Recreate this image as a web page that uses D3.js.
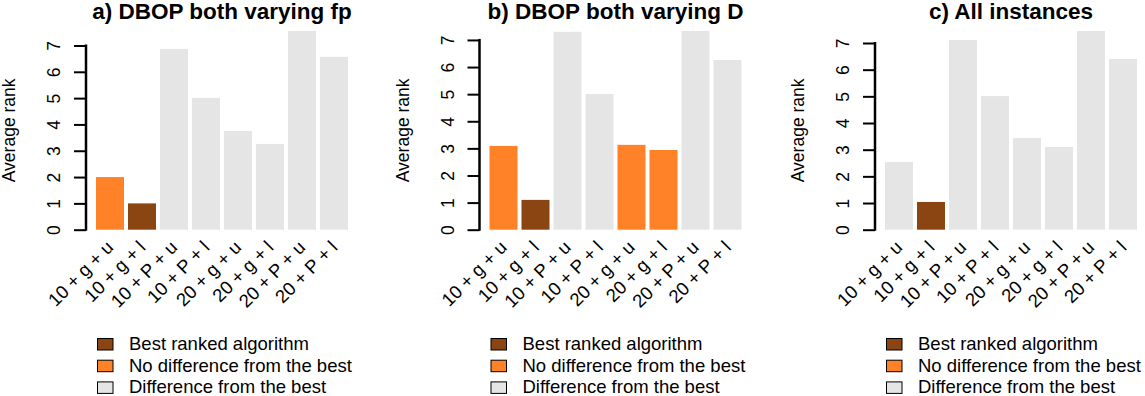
<!DOCTYPE html>
<html>
<head>
<meta charset="utf-8">
<script src="https://cdn.jsdelivr.net/npm/d3@7"></script>
<style>
  body { margin: 0; background: #fff; }
  svg { display: block; font-family: "Liberation Sans", Arial, Helvetica, sans-serif; }
</style>
</head>
<body>
<script>
// algorithm configurations (x categories)
const categories = ["10 + g + u", "10 + g + l", "10 + P + u", "10 + P + l",
                    "20 + g + u", "20 + g + l", "20 + P + u", "20 + P + l"];

const panelTitles = ["a) DBOP both varying fp", "b) DBOP both varying D", "c) All instances"];

// average ranks
const ranksFp  = [2.00, 1.00, 6.87, 5.01, 3.75, 3.26, 7.55, 6.57];
const ranksD   = [3.09, 1.10, 7.30, 5.01, 3.13, 2.94, 7.33, 6.26];
const ranksAll = [2.54, 1.04, 7.11, 5.01, 3.44, 3.10, 7.45, 6.40];

// group of each bar: best / nodiff / diff
const groupsFp  = ["nodiff", "best", "diff", "diff", "diff", "diff", "diff", "diff"];
const groupsD   = ["nodiff", "best", "diff", "diff", "nodiff", "nodiff", "diff", "diff"];
const groupsAll = ["diff", "best", "diff", "diff", "diff", "diff", "diff", "diff"];

const legendKeys = ["best", "nodiff", "diff"];
const legendLabels = ["Best ranked algorithm", "No difference from the best", "Difference from the best"];
const yTicks = [0, 1, 2, 3, 4, 5, 6, 7];

const color = d3.scaleOrdinal()
    .domain(legendKeys)
    .range(["#8B4513", "#FF8229", "#E5E5E5"]);

const panels = [
    { title: panelTitles[0], ranks: ranksFp, groups: groupsFp, left: 86 },
    { title: panelTitles[1], ranks: ranksD, groups: groupsD, left: 479.5 },
    { title: panelTitles[2], ranks: ranksAll, groups: groupsAll, left: 875 }
];

const svg = d3.select("body").append("svg")
    .attr("width", 1145)
    .attr("height", 396);

const plotTop = 31, plotBottom = 229.7;

panels.forEach(p => {
    const g = svg.append("g");

    const x = d3.scaleBand()
        .domain(categories)
        .range([p.left + 10, p.left + 262])
        .paddingInner(0.125);

    const y = d3.scaleLinear()
        .domain([0, d3.max(p.ranks)])
        .range([plotBottom, plotTop]);

    const data = categories.map((c, i) => ({ cat: c, rank: p.ranks[i], group: p.groups[i] }));

    g.selectAll(".bar")
        .data(data)
        .enter()
        .append("rect")
        .attr("class", "bar")
        .attr("x", d => x(d.cat))
        .attr("y", d => y(d.rank))
        .attr("width", x.bandwidth())
        .attr("height", d => y(0) - y(d.rank))
        .attr("fill", d => color(d.group));

    // y axis, line only from 0 to 7 like R
    const yAxis = g.append("g")
        .attr("transform", `translate(${p.left},0)`)
        .call(d3.axisLeft(y).tickValues(yTicks).tickSize(12).tickFormat(d3.format("d")));
    yAxis.select(".domain").remove();
    yAxis.selectAll(".tick line").attr("stroke", "#000").attr("stroke-width", 2);
    yAxis.selectAll(".tick text")
        .attr("x", null)
        .attr("dy", null)
        .attr("transform", "translate(-26,0) rotate(-90)")
        .attr("text-anchor", "middle")
        .style("font-size", "17.5px")
        .style("font-family", "Liberation Sans, Arial, sans-serif")
        .attr("fill", "#000");
    g.append("line")
        .attr("x1", p.left).attr("x2", p.left)
        .attr("y1", y(0) + 1).attr("y2", y(7) - 1)
        .attr("stroke", "#000")
        .attr("stroke-width", 2.5);

    g.append("text")
        .attr("transform", `translate(${p.left - 71},${(plotTop + plotBottom) / 2}) rotate(-90)`)
        .attr("text-anchor", "middle")
        .style("font-size", "17.5px")
        .text("Average rank");

    // rotated category labels
    g.selectAll(".xlab")
        .data(categories)
        .enter()
        .append("text")
        .attr("class", "xlab")
        .attr("transform", d => `translate(${x(d) + x.bandwidth() / 2},244) rotate(-45)`)
        .attr("text-anchor", "end")
        .attr("dy", "0.35em")
        .style("font-size", "18.5px")
        .text(d => d);

    g.append("text")
        .attr("x", p.left + 136)
        .attr("y", 19)
        .attr("text-anchor", "middle")
        .style("font-size", "22.5px")
        .style("font-weight", "bold")
        .text(p.title);

    // legend
    const leg = g.selectAll(".leg")
        .data(legendKeys)
        .enter()
        .append("g")
        .attr("class", "leg")
        .attr("transform", (d, i) => `translate(${p.left},${21.7 * i})`);
    leg.append("rect")
        .attr("x", 11.5)
        .attr("y", 338.5)
        .attr("width", 15.5)
        .attr("height", 11.5)
        .attr("fill", d => color(d))
        .attr("stroke", "#000")
        .attr("stroke-width", 1);
    leg.append("text")
        .attr("x", 43)
        .attr("y", 350)
        .style("font-size", "18.5px")
        .text((d, i) => legendLabels[i]);
});
</script>
</body>
</html>
